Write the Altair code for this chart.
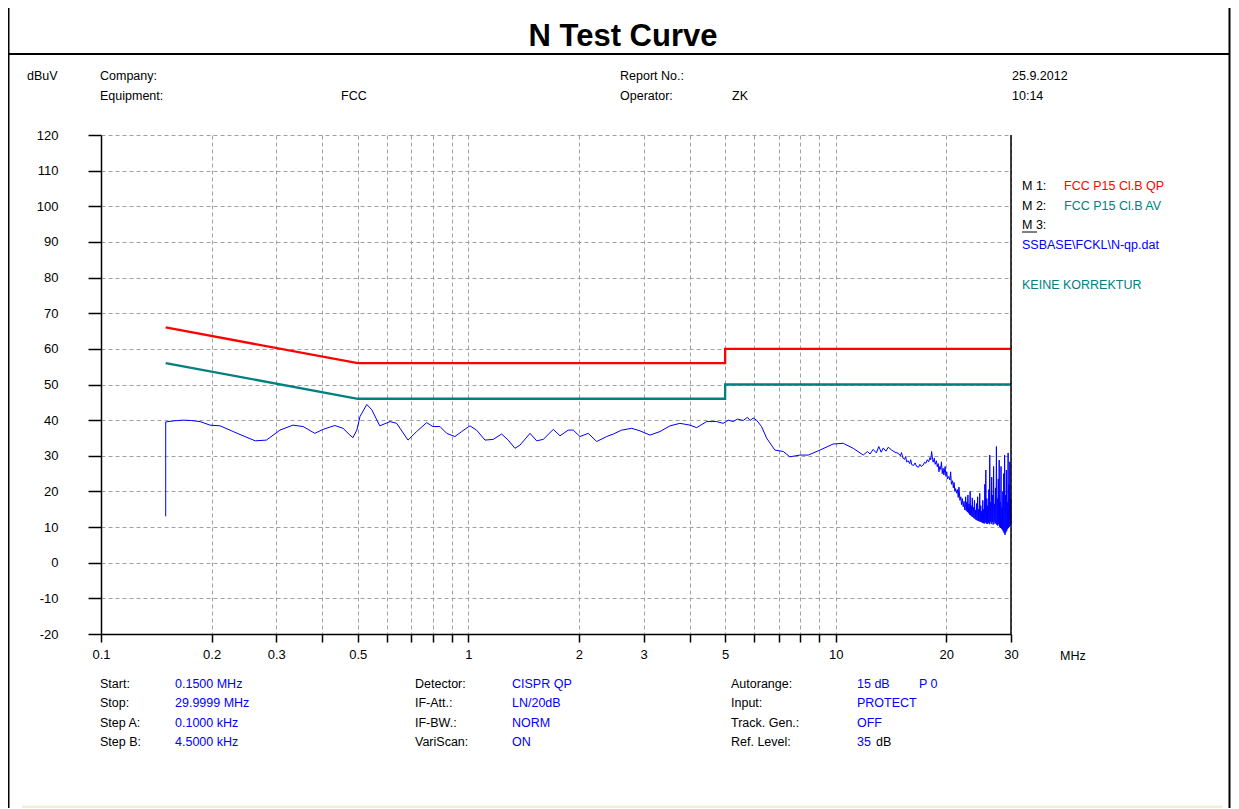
import altair as alt
import pandas as pd

# ---------------- data ----------------
QP_F = [0.15, 0.5, 5.0, 5.0, 30.0]
QP_V = [66, 56, 56, 60, 60]
AV_F = [0.15, 0.5, 5.0, 5.0, 30.0]
AV_V = [56, 46, 46, 50, 50]

MEAS_F = [
    0.150, 0.150, 0.158, 0.167, 0.176, 0.186, 0.198, 0.211, 0.229, 0.245,
    0.263, 0.282, 0.307, 0.333, 0.355, 0.382, 0.402, 0.433, 0.456, 0.476,
    0.485, 0.497, 0.507, 0.529, 0.546, 0.574, 0.612, 0.638, 0.685, 0.723,
    0.770, 0.801, 0.837, 0.873, 0.919, 0.959, 1.010, 1.053, 1.110, 1.169,
    1.232, 1.284, 1.339, 1.382, 1.472, 1.534, 1.599, 1.703, 1.776, 1.870,
    1.930, 2.013, 2.120, 2.235, 2.379, 2.480, 2.614, 2.783, 2.932, 3.121,
    3.323, 3.538, 3.766, 4.011, 4.182, 4.453, 4.741, 4.941, 5.10, 5.26,
    5.40, 5.60, 5.75, 5.85, 5.96, 6.09, 6.28, 6.49, 6.83, 7.20,
    7.50, 7.99, 8.42, 9.06, 9.84, 10.48, 11.16, 11.88, 12.20, 12.40,
    12.65, 12.90, 13.10, 13.30, 13.47, 13.70, 13.90, 14.20, 14.50, 14.80,
    15.00, 15.10, 15.25, 15.40, 15.50, 15.60, 15.75, 15.90, 16.00, 16.10,
    16.30, 16.45, 16.60, 16.80, 16.95, 17.10, 17.30, 17.45, 17.60, 17.75,
    17.90, 18.05, 18.15, 18.24, 18.35, 18.42, 18.55, 18.65, 18.80, 18.90,
    19.00, 19.10, 19.21, 19.30, 19.40, 19.50, 19.60, 19.70, 19.85, 19.95,
    20.05, 20.15, 20.30, 20.46, 20.55, 20.65, 20.80, 20.90, 21.00, 21.10,
    21.20, 21.33, 21.45, 21.55, 21.65, 21.78, 21.90, 22.00, 22.10, 22.23,
    22.35, 22.45, 22.50, 22.58, 22.66, 22.74, 22.82, 22.90, 22.98, 23.06,
    23.14, 23.22, 23.30, 23.38, 23.46, 23.54, 23.62, 23.70, 23.78, 23.86,
    23.94, 24.02, 24.10, 24.18, 24.26, 24.34, 24.42, 24.50, 24.58, 24.66,
    24.74, 24.82, 24.90, 24.98, 25.06, 25.14, 25.22, 25.30, 25.38, 25.46,
    25.54, 25.62, 25.70, 25.78, 25.86, 25.94, 26.02, 26.10, 26.18, 26.26,
    26.34, 26.42, 26.50, 26.58, 26.66, 26.74, 26.82, 26.90, 26.98, 27.06,
    27.14, 27.22, 27.30, 27.38, 27.46, 27.54, 27.62, 27.70, 27.78, 27.86,
    27.94, 28.02, 28.10, 28.18, 28.26, 28.34, 28.42, 28.50, 28.58, 28.66,
    28.74, 28.82, 28.90, 28.98, 29.06, 29.14, 29.22, 29.30, 29.38, 29.46,
    29.54, 29.62, 29.70, 29.78, 29.86, 29.94, 30.00,
]
MEAS_V = [
    13.0, 39.5, 39.8, 40.0, 39.9, 39.6, 38.6, 38.4, 36.8, 35.5,
    34.2, 34.4, 37.2, 38.6, 38.2, 36.3, 37.4, 38.5, 37.7, 35.8,
    35.1, 37.2, 41.0, 44.4, 42.9, 38.4, 39.6, 39.1, 34.4, 36.8,
    39.3, 38.2, 38.2, 36.3, 35.4, 36.8, 38.4, 37.2, 34.4, 34.6,
    36.1, 34.4, 32.1, 33.0, 36.3, 34.2, 34.6, 37.4, 35.6, 37.2,
    37.2, 35.4, 36.3, 34.0, 35.4, 36.1, 37.2, 37.7, 37.0, 35.8,
    36.8, 38.4, 39.1, 38.6, 37.9, 39.6, 39.6, 39.1, 40.0, 39.6,
    40.3, 39.9, 40.8, 39.9, 40.6, 40.0, 38.2, 34.9, 31.6, 31.2,
    29.7, 30.2, 30.2, 31.6, 33.3, 33.5, 32.1, 30.2, 31.2, 30.5,
    31.8, 30.8, 32.6, 31.0, 32.2, 31.3, 32.4, 31.6, 31.0, 30.7,
    30.0, 30.9, 29.3, 29.0, 29.8, 28.3, 28.6, 27.8, 28.9, 27.5,
    27.3, 28.0, 27.0, 26.8, 27.6, 27.0, 27.4, 28.2, 27.9, 28.9,
    28.3, 29.5, 28.9, 31.2, 29.0, 28.2, 29.3, 27.6, 28.6, 26.9,
    27.8, 25.5, 27.0, 26.2, 28.3, 25.0, 26.5, 24.6, 27.0, 24.2,
    25.5, 23.5, 24.2, 23.2, 25.5, 22.0, 23.0, 21.0, 22.5, 20.0,
    20.8, 19.5, 20.5, 18.3, 21.2, 17.5, 18.5, 16.3, 18.0, 15.7,
    17.2, 14.8, 15.0, 18.5, 14.6, 17.0, 14.2, 19.0, 13.9, 16.5,
    13.5, 20.0, 13.3, 16.0, 13.0, 18.2, 12.8, 15.5, 12.5, 17.5,
    12.3, 14.8, 12.0, 16.6, 11.9, 18.5, 11.7, 15.0, 11.6, 19.5,
    11.5, 16.0, 11.4, 14.5, 11.2, 17.5, 11.1, 15.0, 11.0, 22.0,
    11.3, 26.0, 11.0, 18.0, 10.9, 16.0, 11.2, 20.5, 10.8, 30.2,
    11.5, 17.0, 10.9, 24.0, 11.4, 19.0, 10.7, 27.0, 11.6, 16.5,
    10.9, 21.0, 11.2, 32.6, 10.6, 18.0, 10.4, 23.5, 10.8, 28.8,
    10.1, 17.0, 9.8, 27.0, 9.6, 15.5, 9.2, 20.0, 8.8, 25.0,
    8.3, 30.2, 7.8, 19.0, 8.5, 26.0, 9.0, 17.0, 9.5, 30.8,
    9.8, 22.0, 10.1, 28.3, 10.4, 18.0, 11.0,
]

X_TICKS = [0.1, 0.2, 0.3, 0.4, 0.5, 0.6, 0.7, 0.8, 0.9, 1, 2, 3, 4, 5, 6, 7, 8, 9, 10, 20, 30]
X_LABELED = [0.1, 0.2, 0.3, 0.5, 1, 2, 3, 5, 10, 20, 30]
Y_TICKS = list(range(-20, 121, 10))

# texts (page positions)
BLACK, BLUE, RED, TEAL = "#000000", "#0000ff", "#ff0000", "#008080"
TEXTS = [
    ("dBuV", 27, 76, BLACK), ("Company:", 100, 76, BLACK), ("Equipment:", 100, 96, BLACK),
    ("FCC", 341, 96, BLACK), ("Report No.:", 620, 76, BLACK), ("Operator:", 620, 96, BLACK),
    ("ZK", 732, 96, BLACK), ("25.9.2012", 1012, 76, BLACK), ("10:14", 1012, 96, BLACK),
    ("M 1:", 1022, 186, BLACK), ("FCC P15 Cl.B QP", 1064, 186, RED),
    ("M 2:", 1022, 206, BLACK), ("FCC P15 Cl.B AV", 1064, 206, TEAL),
    ("M 3:", 1022, 225, BLACK), ("SSBASE\\FCKL\\N-qp.dat", 1022, 245, BLUE),
    ("KEINE KORREKTUR", 1022, 285, TEAL),
    ("MHz", 1060, 656, BLACK),
    ("Start:", 100, 684, BLACK), ("0.1500 MHz", 175, 684, BLUE),
    ("Stop:", 100, 703, BLACK), ("29.9999 MHz", 175, 703, BLUE),
    ("Step A:", 100, 723, BLACK), ("0.1000 kHz", 175, 723, BLUE),
    ("Step B:", 100, 742, BLACK), ("4.5000 kHz", 175, 742, BLUE),
    ("Detector:", 415, 684, BLACK), ("CISPR QP", 512, 684, BLUE),
    ("IF-Att.:", 415, 703, BLACK), ("LN/20dB", 512, 703, BLUE),
    ("IF-BW.:", 415, 723, BLACK), ("NORM", 512, 723, BLUE),
    ("VariScan:", 415, 742, BLACK), ("ON", 512, 742, BLUE),
    ("Autorange:", 731, 684, BLACK), ("15 dB", 857, 684, BLUE), ("P 0", 919, 684, BLUE),
    ("Input:", 731, 703, BLACK), ("PROTECT", 857, 703, BLUE),
    ("Track. Gen.:", 731, 723, BLACK), ("OFF", 857, 723, BLUE),
    ("Ref. Level:", 731, 742, BLACK), ("35", 857, 742, BLUE), ("dB", 876, 742, BLACK),
]

# frame lines (page positions): x1, y1, x2, y2, colour, width
LINES = [
    (8.5, 8, 8.5, 809, BLACK, 2),
    (1229.5, 8, 1229.5, 809, BLACK, 2),
    (8, 54, 1230, 54, BLACK, 2),
    (1011, 135, 1011, 634, BLACK, 1.5),
    (1022, 232, 1037, 232, BLACK, 1),
    (22, 807, 1222, 807, "#f1efd6", 3),
]

# ---------------- layout constants ----------------
OX, OY = 101, 135   # plot origin on the page
W, H = 910, 499
FONT = "Liberation Sans"

limits = pd.DataFrame({
    "f": QP_F + AV_F,
    "v": QP_V + AV_V,
    "s": ["QP"] * len(QP_F) + ["AV"] * len(AV_F),
    "i": list(range(len(QP_F))) + list(range(len(AV_F))),
})
meas = pd.DataFrame({"f": MEAS_F, "v": MEAS_V, "i": range(len(MEAS_F))})

xscale = alt.Scale(type="log", domain=[0.1, 30], nice=False)
yscale = alt.Scale(domain=[-20, 120], nice=False, zero=False)

lab_list = ",".join(str(v) for v in X_LABELED)
x_axis = alt.Axis(
    values=X_TICKS, title=None,
    labelExpr=f"indexof([{lab_list}], datum.value) >= 0 ? '' + datum.value : ''",
    labelOverlap=False, labelFlush=False, tickSize=8, labelPadding=6,
)
y_axis = alt.Axis(values=Y_TICKS, title=None, tickSize=13, labelPadding=30,
                  labelExpr="'' + datum.value")

lim_layer = alt.Chart(limits).mark_line(strokeWidth=2.3).encode(
    x=alt.X("f:Q", scale=xscale, axis=x_axis),
    y=alt.Y("v:Q", scale=yscale, axis=y_axis),
    color=alt.Color("s:N", scale=alt.Scale(domain=["QP", "AV"], range=[RED, TEAL]), legend=None),
    order="i:Q",
)
meas_layer = alt.Chart(meas).mark_line(strokeWidth=1, color=BLUE).encode(
    x=alt.X("f:Q", scale=xscale, axis=x_axis),
    y=alt.Y("v:Q", scale=yscale, axis=y_axis),
    order="i:Q",
)
data_layers = alt.layer(lim_layer, meas_layer)

tdf = pd.DataFrame({
    "t": [t[0] for t in TEXTS],
    "px": [t[1] - OX for t in TEXTS],
    "py": [t[2] - OY for t in TEXTS],
    "c": [t[3] for t in TEXTS],
})
text_layer = alt.Chart(tdf).mark_text(align="left", baseline="middle", fontSize=12.5, font=FONT).encode(
    x=alt.X("px:Q", scale=None, axis=None),
    y=alt.Y("py:Q", scale=None, axis=None),
    text="t:N",
    color=alt.Color("c:N", scale=None),
)

title_df = pd.DataFrame({"t": ["N Test Curve"], "px": [623 - OX], "py": [37 - OY]})
title_layer = alt.Chart(title_df).mark_text(
    align="center", baseline="middle", fontSize=31, fontWeight="bold", font=FONT, color=BLACK
).encode(
    x=alt.X("px:Q", scale=None, axis=None),
    y=alt.Y("py:Q", scale=None, axis=None),
    text="t:N",
)

ldf = pd.DataFrame({
    "x1": [l[0] - OX for l in LINES], "y1": [l[1] - OY for l in LINES],
    "x2": [l[2] - OX for l in LINES], "y2": [l[3] - OY for l in LINES],
    "c": [l[4] for l in LINES], "w": [l[5] for l in LINES],
})
line_layer = alt.Chart(ldf).mark_rule().encode(
    x=alt.X("x1:Q", scale=None, axis=None), x2="x2:Q",
    y=alt.Y("y1:Q", scale=None, axis=None), y2="y2:Q",
    color=alt.Color("c:N", scale=None),
    strokeWidth=alt.StrokeWidth("w:Q", scale=None),
)

chart = alt.layer(data_layers, line_layer, text_layer, title_layer).resolve_scale(
    x="independent", y="independent"
).properties(
    width=W, height=H,
    autosize=alt.AutoSizeParams(type="none"),
    padding={"left": OX - 8, "top": OY - 8, "right": 1231 - OX - W, "bottom": 808 - OY - H},
    background="white",
).configure_view(stroke=None).configure_axis(
    labelFont=FONT, labelFontSize=13, labelColor=BLACK,
    domainColor=BLACK, domainWidth=1.5, tickColor=BLACK, tickWidth=1.5,
    grid=True, gridColor="#a0a0a0", gridDash=[4, 3], gridWidth=1,
)

chart.save("out.html", embed_options={"renderer": "svg", "actions": False})
